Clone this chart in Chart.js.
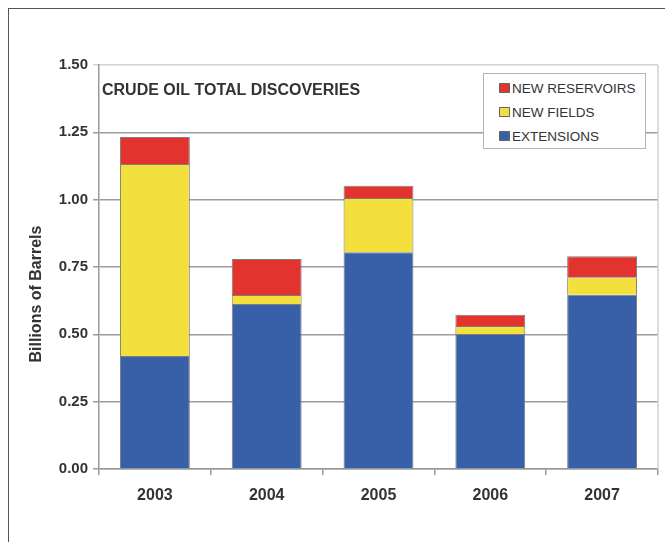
<!DOCTYPE html>
<html>
<head>
<meta charset="utf-8">
<script src="https://cdn.jsdelivr.net/npm/chart.js@4/dist/chart.umd.min.js"></script>
<style>
  html, body { margin:0; padding:0; background:#fff; }
  #wrap { position:relative; width:665px; height:542px; overflow:hidden; }
  #frame { position:absolute; left:8px; top:8px; right:-2px; bottom:-2px; border-top:1px solid #555; border-left:1px solid #555; }
  #chart { position:absolute; left:0; top:0; }
  #legend { position:absolute; left:483px; top:73px; width:161px; height:72px; border:1px solid #b4b4b4; background:#fff;
            font-family:"Liberation Sans", Arial, sans-serif; font-size:13.5px; color:#333; padding-top:2px; box-sizing:content-box; }
  #legend .row { height:24px; display:flex; align-items:center; padding-left:15px; }
  #legend .sw { width:9px; height:8px; border:1px solid #666; margin-right:2px; }
</style>
</head>
<body>
<div id="wrap">
  <div id="frame"></div>
  <canvas id="chart" width="665" height="542"></canvas>
  <div id="legend"></div>
</div>
<script>
// crude oil discoveries, billions of barrels
const years = ['2003', '2004', '2005', '2006', '2007'];
const extensions    = [0.420, 0.613, 0.805, 0.501, 0.647];
const newFields     = [0.712, 0.033, 0.201, 0.030, 0.065];
const newReservoirs = [0.101, 0.134, 0.046, 0.042, 0.078];
const yTicks = [0, 0.25, 0.5, 0.75, 1.0, 1.25, 1.5];

const FONT = '"Liberation Sans", Arial, sans-serif';
const INK = '#333';

// heading + rotated axis caption, drawn into the plot
const captions = {
  id: 'captions',
  beforeDatasetsDraw(chart){
    const { ctx, chartArea:a } = chart;
    ctx.save();
    // light frame on the right side of the plot
    ctx.strokeStyle = '#d2d2d2';
    ctx.lineWidth = 1.5;
    ctx.beginPath();
    ctx.moveTo(a.right, a.top);
    ctx.lineTo(a.right, a.bottom);
    ctx.stroke();
    ctx.restore();
  },
  afterDraw(chart){
    const { ctx, chartArea:a } = chart;
    ctx.save();
    ctx.fillStyle = INK;
    ctx.font = 'bold 16px ' + FONT;
    ctx.textAlign = 'left';
    ctx.textBaseline = 'alphabetic';
    ctx.fillText('CRUDE OIL TOTAL DISCOVERIES', a.left + 3, a.top + 30);

    ctx.translate(41, 294);
    ctx.rotate(-Math.PI / 2);
    ctx.textAlign = 'center';
    ctx.fillText('Billions of Barrels', 0, 0);
    ctx.restore();
  }
};

const chart = new Chart(document.getElementById('chart'), {
  type: 'bar',
  data: {
    labels: years,
    datasets: [
      { label:'EXTENSIONS', data:extensions, backgroundColor:'#3760a9' },
      { label:'NEW FIELDS', data:newFields, backgroundColor:'#f4e03c' },
      { label:'NEW RESERVOIRS', data:newReservoirs, backgroundColor:'#e3332f' },
    ].map(d => ({ ...d, borderColor:'#7d7d7d', borderWidth:1, barPercentage:0.625, categoryPercentage:1 }))
  },
  plugins: [captions],
  options: {
    responsive:false,
    animation:false,
    layout:{ padding:{ left:0, top:65, right:7, bottom:33 } },
    plugins:{ legend:{ display:false }, tooltip:{ enabled:false } },
    scales:{
      x:{
        stacked:true,
        afterFit: s => { s.height = 40; },
        grid:{ drawOnChartArea:false, offset:true, tickLength:6, color:'#999', lineWidth:1.5 },
        border:{ color:'#999', width:1.5 },
        ticks:{ color:INK, font:{ family:FONT, size:16, weight:'bold' }, padding:11 }
      },
      y:{
        stacked:true,
        min:0, max:1.5,
        afterFit: s => { s.width = 99; },
        afterBuildTicks: s => { s.ticks = yTicks.map(v => ({ value:v })); },
        grid:{ tickLength:6, lineWidth:1.5, color: c => c.tick && c.tick.value === 1.5 ? '#d2d2d2' : '#9c9c9c' },
        border:{ color:'#999', width:1.5 },
        ticks:{ color:INK, font:{ family:FONT, size:15, weight:'bold' }, padding:5, callback: v => Number(v).toFixed(2) }
      }
    }
  }
});

// legend box, top entry = top of the stack
const legend = document.getElementById('legend');
chart.data.datasets.slice().reverse().forEach(ds => {
  const row = document.createElement('div');
  row.className = 'row';
  row.innerHTML = `<span class="sw" style="background:${ds.backgroundColor}"></span><span>${ds.label}</span>`;
  legend.appendChild(row);
});
</script>
</body>
</html>
